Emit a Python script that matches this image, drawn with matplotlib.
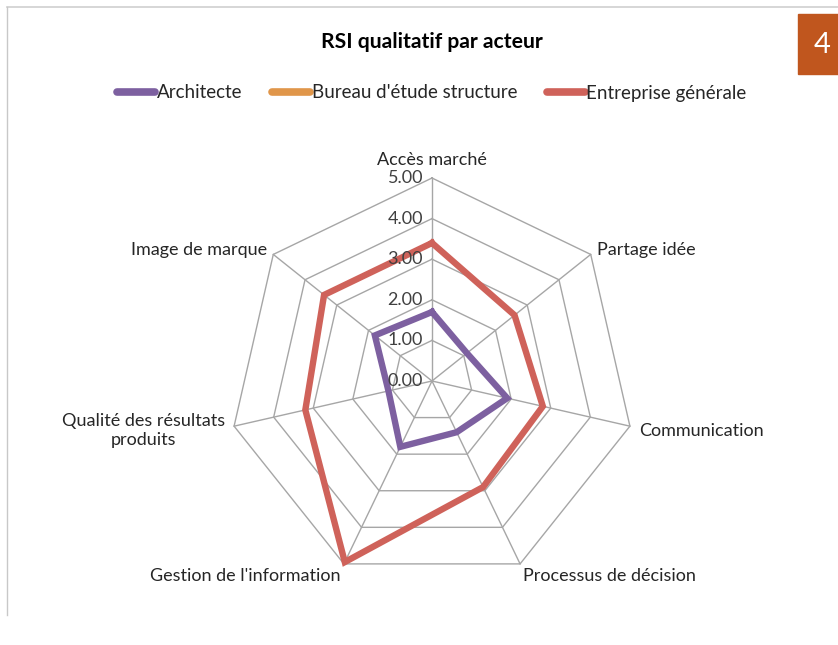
import numpy as np
import matplotlib
matplotlib.use("Agg")
import matplotlib.pyplot as plt
from matplotlib.lines import Line2D
from matplotlib.patches import Rectangle

plt.rcParams['font.family'] = ['Lato', 'DejaVu Sans']

# data
axes_labels = ["Accès marché", "Partage idée", "Communication", "Processus de décision",
               "Gestion de l'information", "Qualité des résultats\nproduits", "Image de marque"]
architecte = [1.70, 1.10, 1.90, 1.40, 1.80, 1.10, 1.80]
bureau_etude = [np.nan] * 7   # no values shown for this series
entreprise = [3.40, 2.60, 2.80, 2.90, 4.95, 3.20, 3.40]
ring_values = [0, 1, 2, 3, 4, 5]
tick_labels = ["0.00", "1.00", "2.00", "3.00", "4.00", "5.00"]

series_names = ["Architecte", "Bureau d'étude structure", "Entreprise générale"]
series_colors = ["#7D60A0", "#E0964A", "#CF625A"]

W, H = 838, 645
fig = plt.figure(figsize=(W / 100, H / 100), dpi=100)

# axes: center at (432, 381) px from top, radius 5 -> 203 px
cx, cy, half = 432, H - 381, 250
lim = half / 203 * 5
ax = fig.add_axes([(cx - half) / W, (cy - half) / H, 2 * half / W, 2 * half / H])
ax.set_xlim(-lim, lim)
ax.set_ylim(-lim, lim)
ax.axis("off")

n = len(axes_labels)
theta = np.arange(n) * 2 * np.pi / n


def to_xy(vals):
    v = np.asarray(vals, dtype=float)
    t = np.append(theta, theta[0])
    v = np.append(v, v[0])
    return v * np.sin(t), v * np.cos(t)


grid_color = "#A6A6A6"
for r in ring_values[1:]:
    x, y = to_xy([r] * n)
    ax.plot(x, y, color=grid_color, lw=1.0, zorder=1)
for t in theta:
    ax.plot([0, 5 * np.sin(t)], [0, 5 * np.cos(t)], color=grid_color, lw=1.0, zorder=1)

for vals, col in zip([architecte, bureau_etude, entreprise], series_colors):
    x, y = to_xy(vals)
    ax.plot(x, y, color=col, lw=4.6, solid_joinstyle="miter", zorder=3)

# radial tick labels
for r, lab in zip(ring_values, tick_labels):
    ax.annotate(lab, (0, r), xytext=(-9, 0), textcoords="offset pixels",
                ha="right", va="center", fontsize=13, color="#404040", zorder=4)

# category labels
label_pos = [((0, 10), "center", "bottom"),
             ((6, 4), "left", "center"),
             ((9, -5), "left", "center"),
             ((3, -12), "left", "center"),
             ((-3, -12), "right", "center"),
             ((-9, -4), "right", "center"),
             ((-6, 4), "right", "center")]
for t, lab, (off, ha, va) in zip(theta, axes_labels, label_pos):
    ax.annotate(lab, (5 * np.sin(t), 5 * np.cos(t)), xytext=off, textcoords="offset pixels",
                ha=ha, va=va, multialignment="center", fontsize=13, color="#262626",
                linespacing=1.25)

fig.text(cx / W, 1 - 42 / H, "RSI qualitatif par acteur", ha="center", va="center",
         fontsize=15.2, fontweight="bold", color="#000000")

handles = [Line2D([], [], color=c, lw=5.5, solid_capstyle="round") for c in series_colors]
fig.legend(handles, series_names, loc="center", bbox_to_anchor=(cx / W, 1 - 93 / H),
           ncol=3, frameon=False, fontsize=13.5, handlelength=2.0, handletextpad=0.1,
           columnspacing=1.6, labelcolor="#262626")

# frame lines and slide number box
fig.add_artist(Line2D([7 / W, 1], [1 - 7 / H, 1 - 7 / H], color="#D0D0D0", lw=1.2))
fig.add_artist(Line2D([7 / W, 7 / W], [1 - 7 / H, 1 - 615 / H], color="#C8C8C8", lw=1.0))
fig.add_artist(Rectangle((798 / W, 1 - 74 / H), 40 / W, 60 / H, color="#C0561E",
                         transform=fig.transFigure))
fig.text(822 / W, 1 - 45 / H, "4", ha="center", va="center", fontsize=21, color="white")

fig.savefig("out.png", dpi=100)
